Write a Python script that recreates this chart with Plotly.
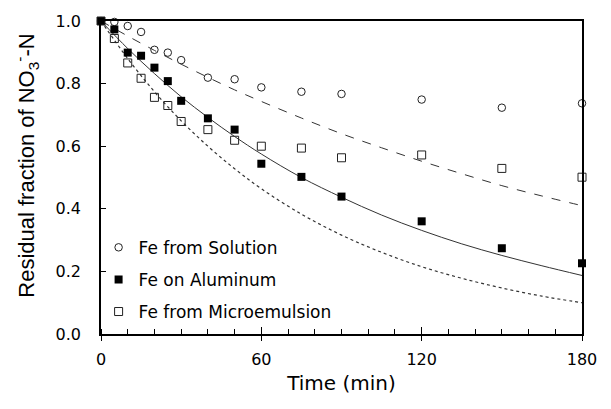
import plotly.graph_objects as go

# Measured data (time in min, residual fraction)
time_pts = [0, 5, 10, 15, 20, 25, 30, 40, 50, 60, 75, 90, 120, 150, 180]
solution = [1.00, 0.997, 0.984, 0.965, 0.908, 0.899, 0.875, 0.819, 0.814, 0.788, 0.774, 0.767, 0.749, 0.723, 0.737]
aluminum = [1.00, 0.973, 0.899, 0.889, 0.851, 0.808, 0.745, 0.689, 0.653, 0.544, 0.502, 0.439, 0.360, 0.274, 0.226]
microemulsion = [1.00, 0.944, 0.866, 0.817, 0.756, 0.730, 0.679, 0.653, 0.619, 0.600, 0.594, 0.563, 0.572, 0.529, 0.501]

# Fitted curves
curve_t = [0, 10, 20, 30, 40, 50, 60, 75, 90, 105, 120, 135, 150, 165, 180]
fit_solution = [1.00, 0.952, 0.906, 0.862, 0.820, 0.780, 0.743, 0.690, 0.640, 0.595, 0.552, 0.512, 0.474, 0.441, 0.410]
fit_aluminum = [1.00, 0.912, 0.832, 0.758, 0.692, 0.631, 0.575, 0.500, 0.437, 0.380, 0.331, 0.288, 0.251, 0.218, 0.187]
fit_micro = [1.00, 0.880, 0.774, 0.681, 0.600, 0.528, 0.464, 0.383, 0.316, 0.261, 0.215, 0.178, 0.147, 0.121, 0.100]

x_ticks = [0, 60, 120, 180]
y_ticks = [0.0, 0.2, 0.4, 0.6, 0.8, 1.0]
y_tick_text = ["0.0", "0.2", "0.4", "0.6", "0.8", "1.0"]

FONT = "DejaVu Sans, Liberation Sans, Arial, sans-serif"
YTITLE_FONT = "Liberation Sans, Arial, sans-serif"
LINE_C = "#333333"

fig = go.Figure()

fig.add_trace(go.Scatter(x=curve_t, y=fit_solution, mode="lines", line=dict(color=LINE_C, width=1, dash="dash", shape="spline"), showlegend=False, hoverinfo="skip"))
fig.add_trace(go.Scatter(x=curve_t, y=fit_aluminum, mode="lines", line=dict(color=LINE_C, width=1, shape="spline"), showlegend=False, hoverinfo="skip"))
fig.add_trace(go.Scatter(x=curve_t, y=fit_micro, mode="lines", line=dict(color=LINE_C, width=1.2, dash="dot", shape="spline"), showlegend=False, hoverinfo="skip"))

fig.add_trace(go.Scatter(x=time_pts, y=solution, mode="markers", name="Fe from Solution", legendgroup="a",
                         marker=dict(symbol="circle-open", size=7.5, color="#222", line=dict(width=1)), cliponaxis=False))
fig.add_trace(go.Scatter(x=time_pts, y=aluminum, mode="markers", name="Fe on Aluminum", legendgroup="b",
                         marker=dict(symbol="square", size=8, color="#000"), cliponaxis=False))
fig.add_trace(go.Scatter(x=time_pts, y=microemulsion, mode="markers", name="Fe from Microemulsion", legendgroup="c",
                         marker=dict(symbol="square-open", size=8, color="#222", line=dict(width=1)), cliponaxis=False))

# invisible trace for overlay axis (inside major ticks)
fig.add_trace(go.Scatter(x=[0, 180], y=[0, 1], xaxis="x2", mode="markers", marker=dict(opacity=0), showlegend=False, hoverinfo="skip"))

fig.update_layout(
    width=611, height=409,
    margin=dict(l=101, r=29, t=12, b=75),
    paper_bgcolor="white", plot_bgcolor="white",
    font=dict(family=FONT, color="#000"),
    xaxis=dict(range=[0, 180], tickvals=x_ticks, ticks="outside", ticklen=5, tickwidth=1, tickcolor="#000",
               showline=True, linecolor="#000", linewidth=1.5, mirror=True, showgrid=False, zeroline=False,
               tickfont=dict(size=16, family=FONT), ticklabelstandoff=5,
               minor=dict(ticks="inside", dtick=10, ticklen=5, tickcolor="#000", tickwidth=1, showgrid=False),
               title=dict(text="Time (min)", font=dict(size=20, family=FONT), standoff=8)),
    xaxis2=dict(range=[0, 180], overlaying="x", anchor="y", side="bottom", tickvals=x_ticks, ticks="inside", ticklen=7,
                tickcolor="#000", tickwidth=1, showticklabels=False, showgrid=False, zeroline=False, showline=False),
    yaxis=dict(range=[0, 1], tickvals=y_ticks, ticktext=y_tick_text, ticks="inside", ticklen=5, tickwidth=1, tickcolor="#000",
               showline=True, linecolor="#000", linewidth=1.5, mirror=True, showgrid=False, zeroline=False,
               tickfont=dict(size=16, family=FONT), ticklabelstandoff=15),
    legend=dict(x=-0.005, y=0.333, xanchor="left", yanchor="top", bgcolor="rgba(0,0,0,0)",
                font=dict(size=17, family=FONT), tracegroupgap=7, itemsizing="trace"),
    showlegend=True,
    annotations=[dict(text="Residual fraction of NO<sub>3</sub><sup>-</sup>-N", textangle=-90,
                      xref="paper", yref="paper", x=-0.155, y=0.539, xanchor="center", yanchor="middle",
                      showarrow=False, font=dict(size=22, family=YTITLE_FONT))],
)

# remove the browser's default body margin so the figure sits at the page origin
fig.write_html("out.html", config={"displayModeBar": False},
               post_script="document.body.style.margin='0';")
